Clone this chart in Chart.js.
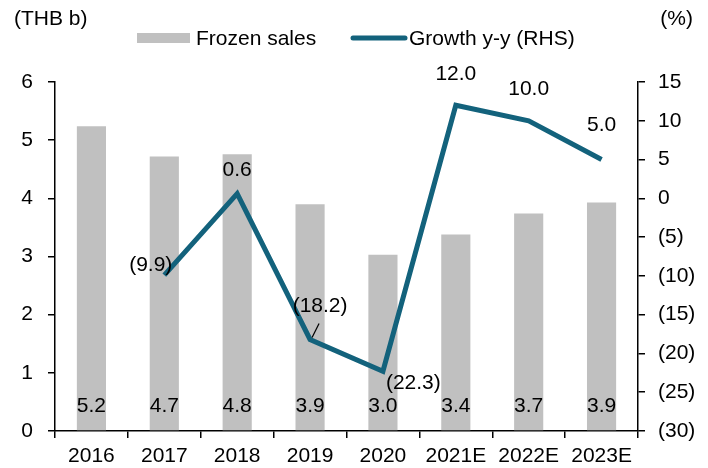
<!DOCTYPE html>
<html>
<head>
<meta charset="utf-8">
<script src="https://cdn.jsdelivr.net/npm/chart.js@4/dist/chart.umd.min.js"></script>
<style>
  html, body { margin: 0; padding: 0; background: #fff; }
  #wrap { width: 708px; height: 468px; }
</style>
</head>
<body>
<div id="wrap"><canvas id="salesChart" width="708" height="468"></canvas></div>
<script>
const years = ["2016", "2017", "2018", "2019", "2020", "2021E", "2022E", "2023E"];
const frozenSales = [5.24, 4.72, 4.76, 3.9, 3.03, 3.38, 3.74, 3.93];
const salesLabels = ["5.2", "4.7", "4.8", "3.9", "3.0", "3.4", "3.7", "3.9"];
const growth = [null, -9.9, 0.6, -18.2, -22.3, 12.0, 10.0, 5.0];

// label placement for the growth line: [dx, dy, align]
const growthLabelPos = [null, [8, -10, "right"], [0, -23, "center"], [10, -33, "center"],
  [3, 12, "left"], [0, -31, "center"], [0, -32, "center"], [0, -34, "center"]];

const barColor = "#c0c0c0";
const lineColor = "#13627c";
const font = "Liberation Sans, Arial, sans-serif";
const fs = 21;

function fmtPct(v) {
  if (v === null) return "";
  const s = Math.abs(v).toFixed(1);
  return v < 0 ? "(" + s + ")" : s;
}

const labelPlugin = {
  id: "labels",
  afterDraw(chart) {
    const ctx = chart.ctx;
    ctx.save();
    ctx.font = fs + "px " + font;
    ctx.fillStyle = "#000";
    ctx.textBaseline = "middle";

    // bar values near the base
    const barMeta = chart.getDatasetMeta(0);
    const yL = chart.scales.y;
    ctx.textAlign = "center";
    barMeta.data.forEach((bar, i) => {
      ctx.fillText(salesLabels[i], bar.x, yL.getPixelForValue(0) - 25);
    });

    // growth values
    const lineMeta = chart.getDatasetMeta(1);
    lineMeta.data.forEach((pt, i) => {
      const p = growthLabelPos[i];
      if (growth[i] === null || !p) return;
      ctx.textAlign = p[2];
      ctx.fillText(fmtPct(growth[i]), pt.x + p[0], pt.y + p[1]);
    });
    // leader line for (18.2)
    const p3 = lineMeta.data[3];
    ctx.strokeStyle = "#000";
    ctx.lineWidth = 1.2;
    ctx.beginPath();
    ctx.moveTo(p3.x + 9, p3.y - 16);
    ctx.lineTo(p3.x + 2, p3.y - 2);
    ctx.stroke();

    // unit titles
    ctx.textAlign = "left";
    ctx.fillText("(THB b)", 14, 19);
    ctx.textAlign = "right";
    ctx.fillText("(%)", 693, 19);

    // legend
    ctx.fillStyle = barColor;
    ctx.fillRect(137, 33, 53, 10);
    ctx.fillStyle = "#000";
    ctx.textAlign = "left";
    ctx.fillText("Frozen sales", 196, 39);
    ctx.strokeStyle = lineColor;
    ctx.lineWidth = 5;
    ctx.lineCap = "round";
    ctx.beginPath();
    ctx.moveTo(353, 38);
    ctx.lineTo(405, 38);
    ctx.stroke();
    ctx.fillText("Growth y-y (RHS)", 409, 39);
    ctx.restore();
  }
};

new Chart("salesChart", {
  type: "bar",
  data: {
    labels: years,
    datasets: [
      {
        type: "bar",
        label: "Frozen sales",
        data: frozenSales,
        backgroundColor: barColor,
        yAxisID: "y",
        categoryPercentage: 1,
        barPercentage: 0.4,
        order: 2
      },
      {
        type: "line",
        label: "Growth y-y (RHS)",
        data: growth,
        borderColor: lineColor,
        borderWidth: 5,
        pointRadius: 0,
        tension: 0,
        yAxisID: "y1",
        order: 1
      }
    ]
  },
  options: {
    responsive: false,
    animation: false,
    layout: { padding: { top: 82, left: 0, right: 0, bottom: 0 } },
    plugins: {
      legend: { display: false },
      tooltip: { enabled: false }
    },
    scales: {
      x: {
        offset: true,
        grid: { display: true, offset: true, drawOnChartArea: false, color: "#000", lineWidth: 1.5, tickLength: 7 },
        border: { color: "#000", width: 1.5 },
        ticks: { color: "#000", font: { size: fs, family: font }, padding: 6, maxRotation: 0 },
        afterFit(s) { s.height = 37; }
      },
      y: {
        position: "left",
        min: 0,
        max: 6,
        ticks: { stepSize: 1, color: "#000", font: { size: fs, family: font }, padding: 15 },
        grid: { drawOnChartArea: false, color: "#000", lineWidth: 1.5, tickLength: 7 },
        border: { color: "#000", width: 1.5 },
        afterFit(s) { s.width = 55; }
      },
      y1: {
        position: "right",
        min: -30,
        max: 15,
        ticks: { stepSize: 5, color: "#000", font: { size: fs, family: font }, padding: 13, callback: v => v < 0 ? "(" + Math.abs(v) + ")" : v },
        grid: { drawOnChartArea: false, color: "#000", lineWidth: 1.5, tickLength: 7 },
        border: { color: "#000", width: 1.5 },
        afterFit(s) { s.width = 70; }
      }
    }
  },
  plugins: [labelPlugin]
});
</script>
</body>
</html>
